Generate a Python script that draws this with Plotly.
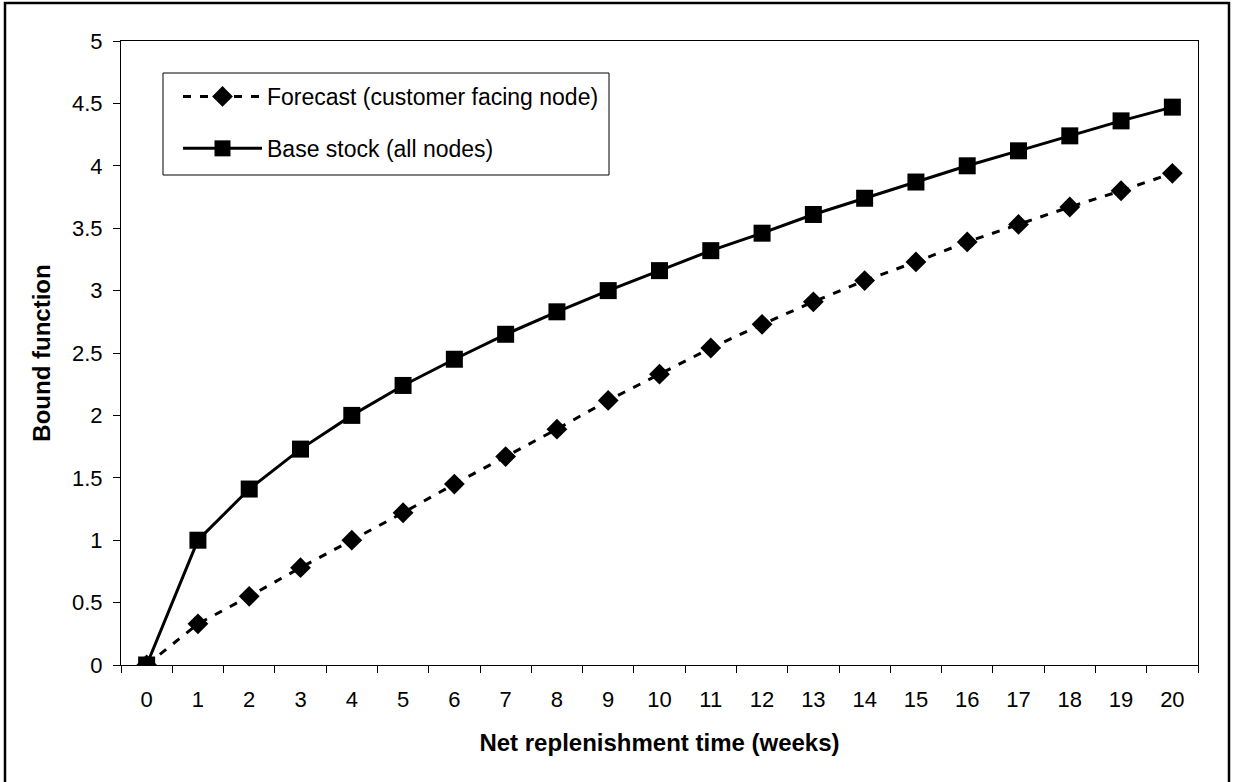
import plotly.graph_objects as go

weeks = [str(i) for i in range(21)]
forecast = [0, 0.33, 0.55, 0.78, 1.0, 1.22, 1.45, 1.67, 1.89, 2.12, 2.33,
            2.54, 2.73, 2.91, 3.08, 3.23, 3.39, 3.53, 3.67, 3.80, 3.94]
base_stock = [0, 1.0, 1.41, 1.73, 2.0, 2.24, 2.45, 2.65, 2.83, 3.0, 3.16,
              3.32, 3.46, 3.61, 3.74, 3.87, 4.0, 4.12, 4.24, 4.36, 4.47]
y_ticks = [0, 0.5, 1, 1.5, 2, 2.5, 3, 3.5, 4, 4.5, 5]

FONT = "Liberation Sans, Arial, sans-serif"
TICK_FS = 22
LEG_FS = 23
TITLE_FS = 24

fig = go.Figure()
fig.add_trace(go.Scatter(
    x=weeks, y=forecast, name="Forecast (customer facing node)",
    mode="lines+markers", legendgroup="a",
    line=dict(color="black", width=3, dash="8px,9px"),
    marker=dict(symbol="diamond", size=16, color="black"),
))
fig.add_trace(go.Scatter(
    x=weeks, y=base_stock, name="Base stock (all nodes)",
    mode="lines+markers", legendgroup="b",
    line=dict(color="black", width=3),
    marker=dict(symbol="square", size=17, color="black"),
))

L, R, T, B = 121, 35, 41, 117
W, H = 1233, 782
pw, ph = W - L - R, H - T - B

def px_x(x):
    return (x - L) / pw

def px_y(y):
    return (H - B - y) / ph

# outer chart-area frame
fig.add_shape(type="rect", xref="paper", yref="paper",
              x0=px_x(5), x1=px_x(1229), y0=px_y(790), y1=px_y(3),
              line=dict(color="black", width=2.5), layer="below")
# legend frame
fig.add_shape(type="rect", xref="paper", yref="paper",
              x0=px_x(163), x1=px_x(609), y0=px_y(175), y1=px_y(73),
              line=dict(color="black", width=1), fillcolor="white",
              layer="below")

fig.update_layout(
    width=W, height=H,
    margin=dict(l=L, r=R, t=T, b=B, pad=0),
    paper_bgcolor="white", plot_bgcolor="white",
    font=dict(family=FONT, size=TICK_FS, color="black"),
    showlegend=True,
    legend=dict(
        x=px_x(178), y=px_y(75), xanchor="left", yanchor="top",
        bgcolor="rgba(0,0,0,0)", borderwidth=0,
        font=dict(size=LEG_FS), itemwidth=79, tracegroupgap=19,
    ),
    xaxis=dict(
        type="category", range=[-0.5, 20.5], tickson="boundaries",
        ticks="outside", ticklen=7, tickcolor="black", tickwidth=1,
        ticklabelstandoff=15,
        showline=True, linecolor="black", linewidth=1, mirror=True,
        showgrid=False, zeroline=False,
        title=dict(text="<b>Net replenishment time (weeks)</b>", standoff=22,
                   font=dict(size=TITLE_FS)),
    ),
    yaxis=dict(
        range=[0, 5], tickvals=y_ticks, ticktext=[f"{v:g}" for v in y_ticks],
        ticks="outside", ticklen=7, tickcolor="black", tickwidth=1,
        ticklabelstandoff=6,
        showline=True, linecolor="black", linewidth=1, mirror=True,
        showgrid=False, zeroline=False,
        title=dict(text="<b>Bound function</b>", standoff=14,
                   font=dict(size=TITLE_FS)),
    ),
)

fig.write_html("out.html")
